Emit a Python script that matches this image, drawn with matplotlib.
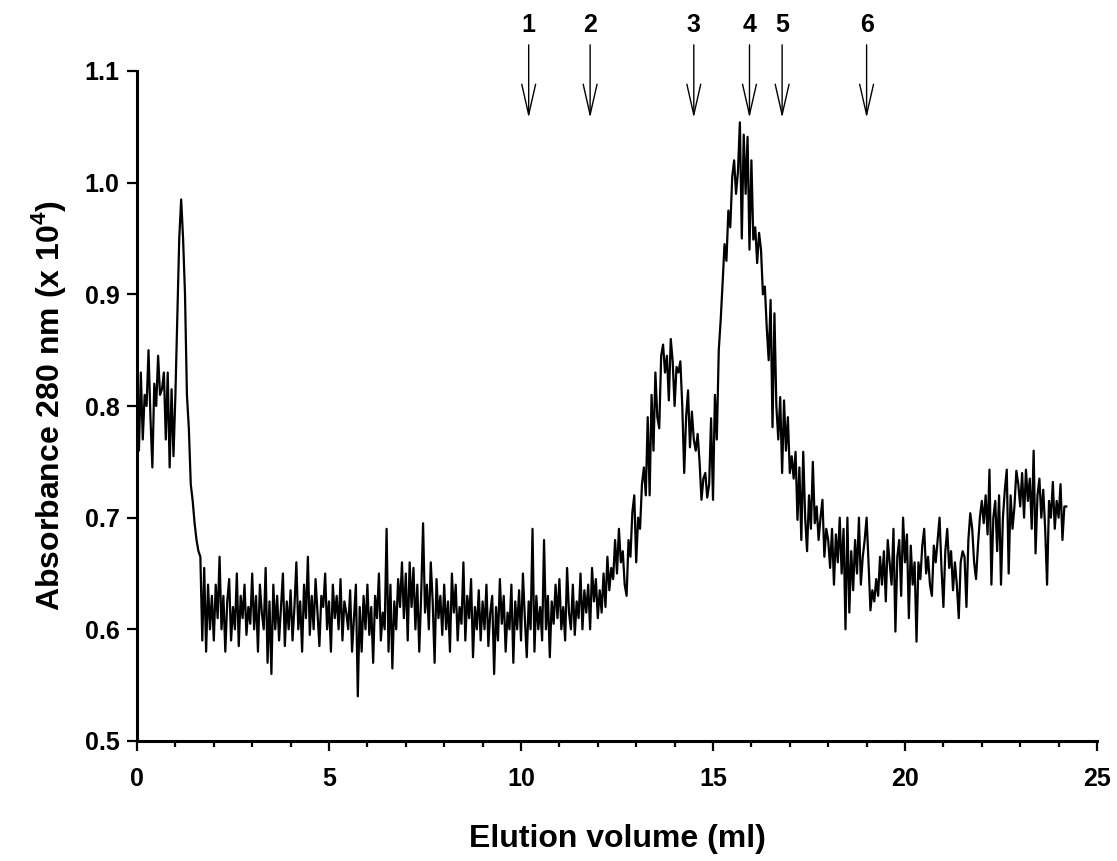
import numpy as np
import matplotlib
matplotlib.use("Agg")
import matplotlib.pyplot as plt
from matplotlib.ticker import MultipleLocator

# ---------------- data ----------------
volume_step = 0.05  # ml between readings, starting at 0 ml
absorbance = [
    0.80, 0.76, 0.83, 0.77, 0.81, 0.80, 0.85, 0.79, 0.745, 0.82, 0.80, 0.845, 0.81, 0.815, 0.83, 0.77, 0.83, 0.745, 0.815, 0.755,
    0.81, 0.88, 0.95, 0.985, 0.95, 0.90, 0.81, 0.78, 0.73, 0.715, 0.695, 0.68, 0.67, 0.665, 0.59, 0.655, 0.58, 0.64, 0.60, 0.63,
    0.59, 0.64, 0.61, 0.665, 0.60, 0.63, 0.58, 0.625, 0.645, 0.59, 0.62, 0.60, 0.65, 0.585, 0.63, 0.61, 0.64, 0.595, 0.62, 0.605,
    0.65, 0.60, 0.63, 0.58, 0.64, 0.615, 0.60, 0.655, 0.57, 0.625, 0.56, 0.64, 0.60, 0.63, 0.59, 0.62, 0.65, 0.585, 0.625, 0.60,
    0.635, 0.59, 0.62, 0.66, 0.60, 0.625, 0.58, 0.64, 0.61, 0.665, 0.595, 0.63, 0.60, 0.645, 0.615, 0.585, 0.63, 0.62, 0.65, 0.60,
    0.625, 0.58, 0.64, 0.61, 0.63, 0.60, 0.645, 0.59, 0.625, 0.615, 0.60, 0.635, 0.58, 0.61, 0.64, 0.54, 0.62, 0.58, 0.63, 0.60,
    0.64, 0.595, 0.62, 0.57, 0.63, 0.61, 0.65, 0.59, 0.615, 0.60, 0.69, 0.58, 0.64, 0.565, 0.625, 0.60, 0.645, 0.62, 0.66, 0.61,
    0.65, 0.59, 0.66, 0.62, 0.655, 0.60, 0.64, 0.58, 0.63, 0.695, 0.615, 0.64, 0.60, 0.66, 0.625, 0.57, 0.645, 0.61, 0.63, 0.595,
    0.64, 0.60, 0.625, 0.58, 0.65, 0.615, 0.64, 0.59, 0.62, 0.605, 0.66, 0.59, 0.63, 0.61, 0.645, 0.575, 0.62, 0.60, 0.635, 0.59,
    0.625, 0.60, 0.64, 0.585, 0.615, 0.63, 0.56, 0.62, 0.59, 0.645, 0.605, 0.63, 0.58, 0.615, 0.60, 0.64, 0.57, 0.625, 0.60, 0.635,
    0.59, 0.65, 0.61, 0.575, 0.625, 0.60, 0.69, 0.58, 0.63, 0.60, 0.62, 0.59, 0.68, 0.60, 0.63, 0.575, 0.625, 0.605, 0.64, 0.61,
    0.645, 0.60, 0.62, 0.59, 0.655, 0.615, 0.60, 0.64, 0.595, 0.625, 0.61, 0.65, 0.60, 0.635, 0.615, 0.64, 0.60, 0.655, 0.625, 0.645,
    0.61, 0.635, 0.615, 0.65, 0.62, 0.665, 0.635, 0.655, 0.645, 0.68, 0.65, 0.69, 0.66, 0.67, 0.64, 0.63, 0.68, 0.665, 0.705, 0.72,
    0.66, 0.70, 0.69, 0.73, 0.745, 0.72, 0.79, 0.72, 0.81, 0.76, 0.83, 0.79, 0.78, 0.845, 0.855, 0.83, 0.845, 0.805, 0.86, 0.84,
    0.80, 0.835, 0.83, 0.84, 0.80, 0.74, 0.79, 0.814, 0.763, 0.795, 0.77, 0.76, 0.775, 0.75, 0.716, 0.735, 0.74, 0.718, 0.73, 0.789,
    0.716, 0.81, 0.77, 0.85, 0.877, 0.91, 0.945, 0.93, 0.975, 0.96, 1.005, 1.02, 0.99, 1.01, 1.054, 0.95, 1.043, 0.99, 1.041, 0.94,
    1.02, 0.949, 0.96, 0.928, 0.955, 0.94, 0.90, 0.907, 0.87, 0.841, 0.895, 0.781, 0.883, 0.80, 0.77, 0.808, 0.74, 0.805, 0.76, 0.79,
    0.74, 0.755, 0.735, 0.759, 0.698, 0.745, 0.68, 0.759, 0.70, 0.67, 0.72, 0.69, 0.75, 0.695, 0.71, 0.68, 0.70, 0.716, 0.665, 0.69,
    0.68, 0.655, 0.69, 0.64, 0.685, 0.66, 0.70, 0.65, 0.69, 0.60, 0.70, 0.615, 0.67, 0.635, 0.68, 0.65, 0.70, 0.64, 0.665, 0.68,
    0.70, 0.66, 0.617, 0.635, 0.625, 0.645, 0.63, 0.665, 0.64, 0.67, 0.625, 0.68, 0.66, 0.64, 0.69, 0.598, 0.665, 0.68, 0.63, 0.70,
    0.66, 0.685, 0.61, 0.675, 0.64, 0.66, 0.589, 0.66, 0.645, 0.675, 0.69, 0.65, 0.665, 0.64, 0.63, 0.675, 0.66, 0.68, 0.70, 0.655,
    0.62, 0.67, 0.69, 0.655, 0.67, 0.635, 0.66, 0.64, 0.61, 0.66, 0.67, 0.665, 0.62, 0.68, 0.704, 0.69, 0.66, 0.645, 0.675, 0.70,
    0.715, 0.695, 0.72, 0.685, 0.743, 0.64, 0.70, 0.715, 0.67, 0.72, 0.64, 0.70, 0.725, 0.743, 0.65, 0.72, 0.69, 0.71, 0.742, 0.73,
    0.71, 0.74, 0.70, 0.743, 0.715, 0.735, 0.69, 0.76, 0.668, 0.72, 0.735, 0.70, 0.725, 0.69, 0.64, 0.715, 0.70, 0.732, 0.69, 0.715,
    0.70, 0.73, 0.68, 0.71, 0.71,
]

marker_labels = ["1", "2", "3", "4", "5", "6"]
marker_volumes = [10.2, 11.8, 14.5, 15.95, 16.8, 19.0]

x_ticks = [0, 5, 10, 15, 20, 25]
y_ticks = [0.5, 0.6, 0.7, 0.8, 0.9, 1.0, 1.1]

x_label = "Elution volume (ml)"
y_label = r"Absorbance 280 nm (x 10$^{\mathbf{4}}$)"

# ---------------- style ----------------
plt.rcParams["font.family"] = ["Liberation Sans", "DejaVu Sans"]
plt.rcParams["font.weight"] = "bold"
plt.rcParams["mathtext.fontset"] = "custom"
plt.rcParams["mathtext.rm"] = "Liberation Sans:bold"
plt.rcParams["mathtext.bf"] = "Liberation Sans:bold"

volumes = np.arange(len(absorbance)) * volume_step

fig = plt.figure(figsize=(11.17, 8.61), dpi=100)
ax = fig.add_axes([137 / 1117, 120 / 861, 960 / 1117, 670 / 861])

ax.plot(volumes, absorbance, color="black", linewidth=1.6)

ax.set_xlim(0, 25)
ax.set_ylim(0.5, 1.1)
ax.set_xticks(x_ticks)
ax.set_xticklabels([str(t) for t in x_ticks])
ax.set_yticks(y_ticks)
ax.set_yticklabels([f"{t:.1f}" for t in y_ticks])
ax.xaxis.set_minor_locator(MultipleLocator(1))

for side in ["top", "right"]:
    ax.spines[side].set_visible(False)
for side in ["left", "bottom"]:
    ax.spines[side].set_linewidth(2.2)

ax.tick_params(axis="both", which="major", direction="out", length=7.5, width=1.6,
               labelsize=18)
ax.tick_params(axis="x", which="major", pad=11)
ax.tick_params(axis="y", which="major", pad=5)
ax.tick_params(axis="x", which="minor", direction="out", length=4.5, width=1.6)
for lab in ax.get_xticklabels() + ax.get_yticklabels():
    lab.set_fontweight("bold")

ax.set_xlabel(x_label, fontsize=23, fontweight="bold", labelpad=24)
ax.set_ylabel(y_label, fontsize=23, fontweight="bold", labelpad=12)

# calibration marker arrows above the plot
for lab, v in zip(marker_labels, marker_volumes):
    ax.annotate("", xy=(v, 0.930), xytext=(v, 1.039),
                xycoords=("data", "axes fraction"),
                textcoords=("data", "axes fraction"),
                arrowprops=dict(arrowstyle="->,head_length=2.2,head_width=0.5",
                                color="black", lw=1.0, shrinkA=0, shrinkB=0),
                annotation_clip=False)
    ax.text(v, 1.069, lab, transform=ax.get_xaxis_transform(),
            ha="center", va="center", fontsize=18, fontweight="bold",
            clip_on=False)

fig.savefig("out.png", dpi=100)
